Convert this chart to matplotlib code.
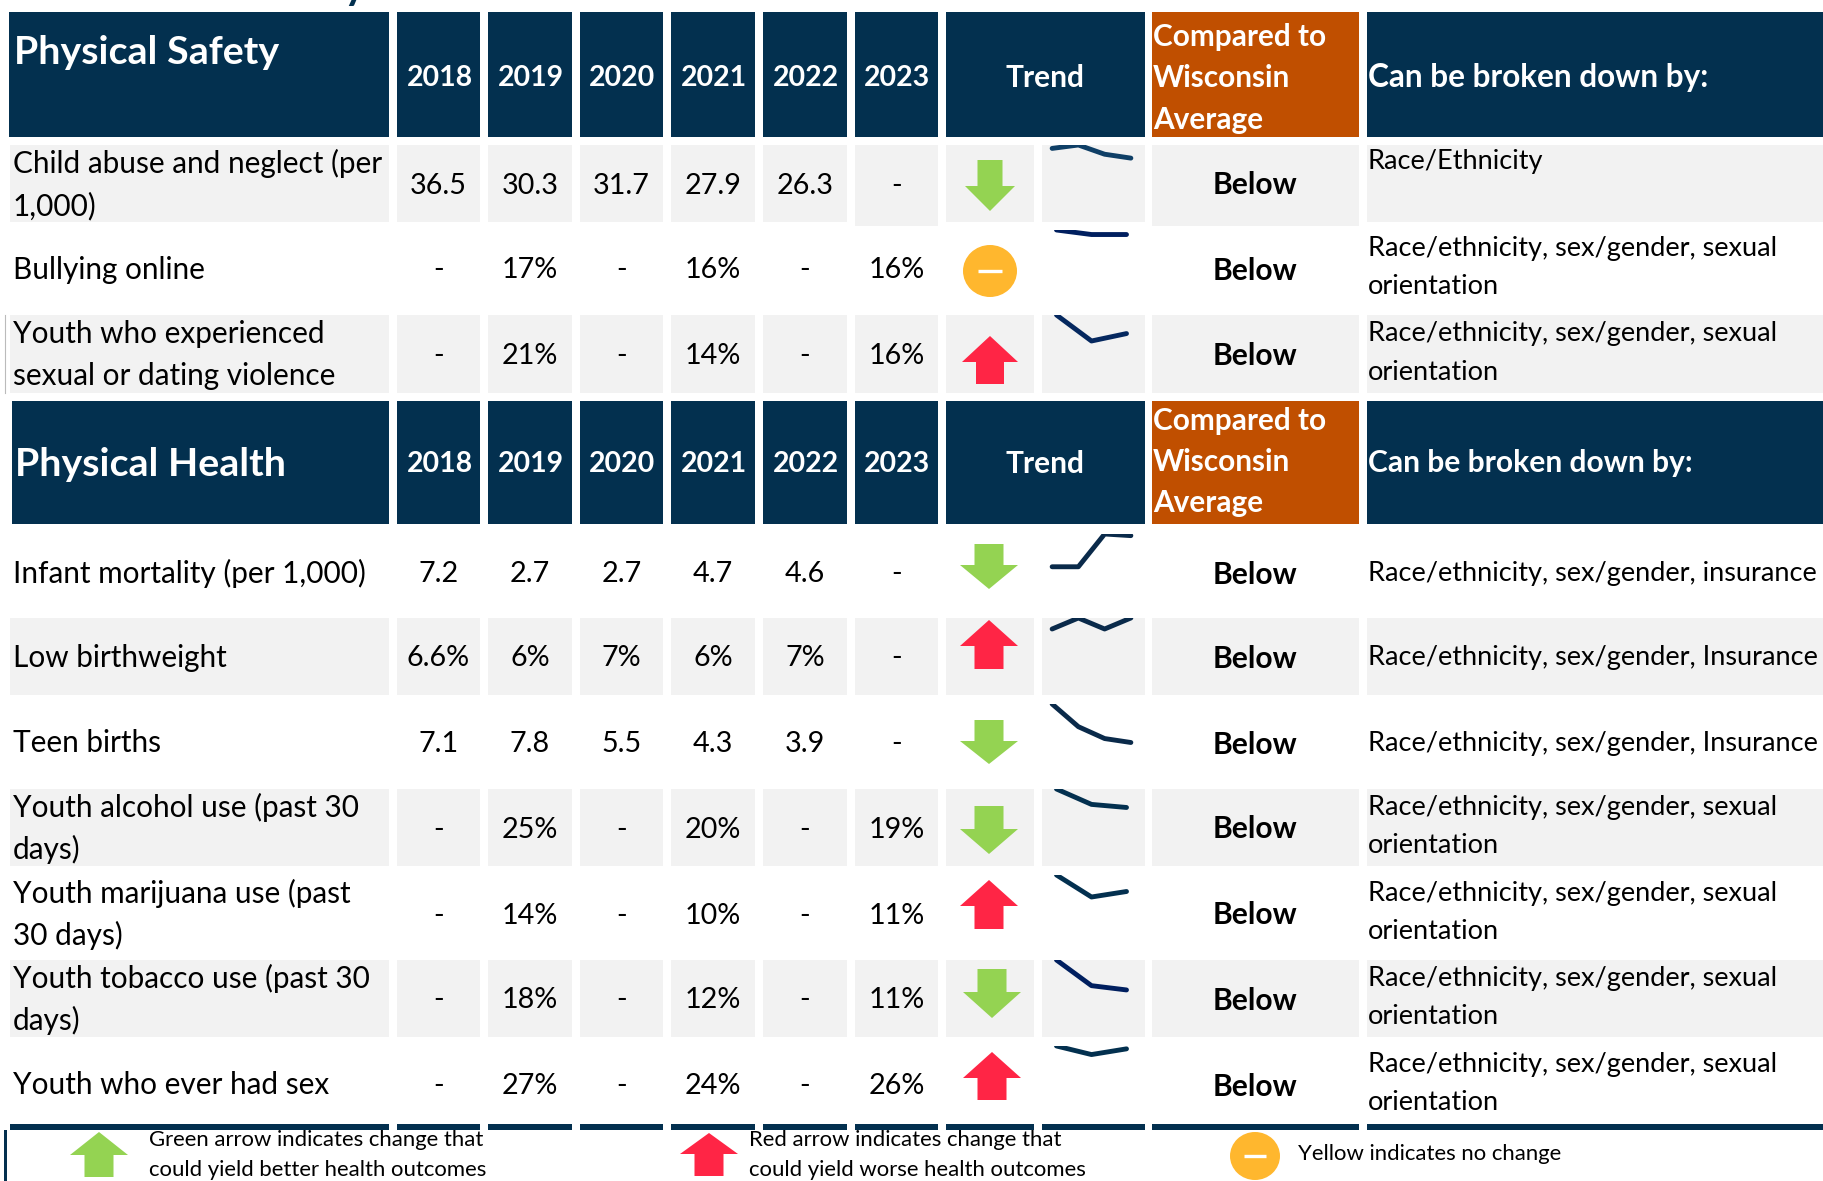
import matplotlib
matplotlib.use('Agg')
import matplotlib.pyplot as plt
from matplotlib.patches import Rectangle, Polygon, Ellipse

NAVY = '#03304f'
ORANGE = '#c04f00'
GRAY = '#f2f2f2'
GREEN = '#94d352'
RED = '#ff2545'
YELLOW = '#ffb72e'

years = ['2018', '2019', '2020', '2021', '2022', '2023']
compare_header = ['Compared to', 'Wisconsin', 'Average']

safety_names = ['Child abuse and neglect (per\n1,000)', 'Bullying online',
                'Youth who experienced\nsexual or dating violence']
safety_values = [['36.5', '30.3', '31.7', '27.9', '26.3', '-'],
                 ['-', '17%', '-', '16%', '-', '16%'],
                 ['-', '21%', '-', '14%', '-', '16%']]
safety_trend = ['down', 'flat', 'up']
safety_breakdown = ['Race/Ethnicity',
                    'Race/ethnicity, sex/gender, sexual\norientation',
                    'Race/ethnicity, sex/gender, sexual\norientation']

health_names = ['Infant mortality (per 1,000)', 'Low birthweight', 'Teen births',
                'Youth alcohol use (past 30\ndays)', 'Youth marijuana use (past\n30 days)',
                'Youth tobacco use (past 30\ndays)', 'Youth who ever had sex']
health_values = [['7.2', '2.7', '2.7', '4.7', '4.6', '-'],
                 ['6.6%', '6%', '7%', '6%', '7%', '-'],
                 ['7.1', '7.8', '5.5', '4.3', '3.9', '-'],
                 ['-', '25%', '-', '20%', '-', '19%'],
                 ['-', '14%', '-', '10%', '-', '11%'],
                 ['-', '18%', '-', '12%', '-', '11%'],
                 ['-', '27%', '-', '24%', '-', '26%']]
health_trend = ['down', 'up', 'down', 'down', 'up', 'down', 'up']
health_breakdown = ['Race/ethnicity, sex/gender, insurance',
                    'Race/ethnicity, sex/gender, Insurance',
                    'Race/ethnicity, sex/gender, Insurance',
                    'Race/ethnicity, sex/gender, sexual\norientation',
                    'Race/ethnicity, sex/gender, sexual\norientation',
                    'Race/ethnicity, sex/gender, sexual\norientation',
                    'Race/ethnicity, sex/gender, sexual\norientation']

legend_green = 'Green arrow indicates change that\ncould yield better health outcomes'
legend_red = 'Red arrow indicates change that\ncould yield worse health outcomes'
legend_yellow = 'Yellow indicates no change'

# layout in pixels of the 1824x1181 picture
W, H = 1824, 1181
name_col = (10, 389)
year_cols = [(397, 480), (488, 572), (580, 663), (671, 755), (763, 847), (855, 938)]
arrow_col = (946, 1034)
spark_col = (1042, 1145)
compare_col = (1152, 1359)
break_col = (1367, 1824)

safety_rows = [(145, 222), (230, 307), (315, 393)]
health_rows = [(534, 611), (618, 695), (704, 781), (789, 866), (875, 952), (960, 1037), (1046, 1123)]
safety_shaded = [True, False, True]
health_shaded = [False, True, False, True, False, True, False]
safety_colors = ['#0f3f66', '#001f5f', '#05285f']
health_colors = ['#0a2a4a', '#0a2a4a', '#0a2a4a', '#03304f', '#03304f', '#001f5f', '#03304f']

# arrow x centre, top, head base, bottom, half width
safety_icons = [(990, 160, 186, 211, 25), (990, 271, 0, 0, 0), (990, 336, 362, 384, 28)]
health_icons = [(989, 544, 565, 589, 29), (989, 620, 646, 669, 29), (989, 720, 741, 764, 29), (989, 806, 829, 854, 29),
                (989, 880, 906, 929, 29), (992, 969, 992, 1018, 29), (992, 1052, 1078, 1100, 29)]

plt.rcParams['font.family'] = ['Lato', 'DejaVu Sans']

fig = plt.figure(figsize=(W / 100, H / 100), dpi=100)
ax = fig.add_axes([0, 0, 1, 1])
ax.set_xlim(0, W)
ax.set_ylim(H, 0)
ax.axis('off')


def box(x0, x1, y0, y1, color):
    ax.add_patch(Rectangle((x0, y0), x1 - x0, y1 - y0, facecolor=color, edgecolor='none'))


def label(x, y, s, size=21, color='black', weight='normal', ha='left', spacing=1.5):
    ax.text(x, y, s, fontsize=size, color=color, fontweight=weight, ha=ha, va='center', linespacing=spacing)


def arrow(x, top, base, bottom, half, direction, color):
    shaft = half / 2
    if direction == 'down':
        pts = [(x - shaft, top), (x + shaft, top), (x + shaft, base), (x + half, base),
               (x, bottom), (x - half, base), (x - shaft, base)]
    else:
        pts = [(x, top), (x + half, base), (x + shaft, base), (x + shaft, bottom),
               (x - shaft, bottom), (x - shaft, base), (x - half, base)]
    ax.add_patch(Polygon(pts, closed=True, facecolor=color, edgecolor='none'))


def flat_icon(x, y, rx, ry):
    ax.add_patch(Ellipse((x, y), rx * 2, ry * 2, facecolor=YELLOW, edgecolor='none'))
    ax.plot([x - rx * 0.45, x + rx * 0.45], [y, y], color='white', lw=2.4, solid_capstyle='butt')


def spark(values, top, bottom, color):
    # excel sparkline from 2019 on, axis starts at zero
    nums = [float(v.strip('%')) for v in values[1:] if v != '-']
    sp = fig.add_axes([1039 / W, 1 - bottom / H, 105 / W, (bottom - top) / H])
    sp.plot(range(len(nums)), nums, color=color, lw=3.5, solid_capstyle='round', solid_joinstyle='round')
    sp.set_xlim(-0.5, len(nums) - 0.5)
    sp.set_ylim(0, max(nums))
    sp.axis('off')


def header(y0, y1, title, title_x, title_y, year_y, compare_ys, break_y, name_x0, break_size):
    box(name_x0, name_col[1], y0, y1, NAVY)
    label(title_x, title_y, title, size=28.4, color='white', weight='bold')
    for c, yr in zip(year_cols, years):
        box(c[0], c[1], y0, y1, NAVY)
        label((c[0] + c[1]) / 2 + 1, year_y, yr, size=20.5, color='white', weight='bold', ha='center')
    box(arrow_col[0], spark_col[1], y0, y1, NAVY)
    label(1045, year_y, 'Trend', size=21.5, color='white', weight='bold', ha='center')
    box(compare_col[0], compare_col[1], y0, y1, ORANGE)
    for yy, s in zip(compare_ys, compare_header):
        label(compare_col[0] + 1, yy, s, size=21.4, color='white', weight='bold')
    box(break_col[0], break_col[1], y0, y1, NAVY)
    label(1368, break_y, 'Can be broken down by:', size=break_size, color='white', weight='bold')


def rows(names, values, trend, breakdown, spans, shaded, colors, icons):
    for i, (y0, y1) in enumerate(spans):
        mid = (y0 + y1) / 2 + 1
        if shaded[i]:
            box(name_col[0], name_col[1], y0, y1, GRAY)
            for c in year_cols:
                box(c[0], c[1], y0, y1, GRAY)
            box(arrow_col[0], arrow_col[1], y0, y1, GRAY)
            box(spark_col[0], spark_col[1], y0, y1, GRAY)
            box(compare_col[0], compare_col[1], y0, y1, GRAY)
            box(break_col[0], break_col[1], y0, y1, GRAY)
        label(13, mid, names[i], size=21.4, spacing=1.57)
        for c, v in zip(year_cols, values[i]):
            label((c[0] + c[1]) / 2, mid + 1, v, size=20.7, ha='center')
        icon = icons[i]
        if trend[i] == 'flat':
            flat_icon(icon[0], icon[1], 27, 26)
        elif trend[i] == 'down':
            arrow(icon[0], icon[1], icon[2], icon[3], icon[4], 'down', GREEN)
        else:
            arrow(icon[0], icon[1], icon[2], icon[3], icon[4], 'up', RED)
        spark(values[i], y0, y1, colors[i])
        label((compare_col[0] + compare_col[1]) / 2, mid + 1, 'Below', size=21.6, weight='bold', ha='center')
        if '\n' in breakdown[i]:
            by = mid - 2
        elif names is safety_names:
            by = y0 + 17
        else:
            by = mid
        label(1368, by, breakdown[i], size=19.5, spacing=1.68)


# only the tail of the page title is left at the top edge
ax.text(344, -1, 'y', fontsize=30, color=NAVY, fontweight='bold', ha='left', va='baseline')

# child abuse row: last year and comparison cells run a little lower
box(855, 938, 222, 226, GRAY)
box(compare_col[0], compare_col[1], 222, 226, GRAY)

header(12, 137, 'Physical Safety', 14, 52, 78, [37, 78, 120], 77, 9, 22.7)
rows(safety_names, safety_values, safety_trend, safety_breakdown, safety_rows, safety_shaded,
     safety_colors, safety_icons)
ax.plot([5.5, 5.5], [315, 393], color='#bbbbbb', lw=0.8)

header(401, 524, 'Physical Health', 15, 464, 464, [421, 462, 503], 463, 12, 21.6)
rows(health_names, health_values, health_trend, health_breakdown, health_rows, health_shaded,
     health_colors, health_icons)

# footer rule and key
box(name_col[0], name_col[1], 1124, 1130, NAVY)
for c in year_cols:
    box(c[0], c[1], 1124, 1130, NAVY)
box(arrow_col[0], arrow_col[1], 1124, 1130, NAVY)
box(spark_col[0], spark_col[1], 1124, 1130, NAVY)
box(compare_col[0], compare_col[1], 1124, 1130, NAVY)
box(break_col[0], break_col[1], 1124, 1130, NAVY)
box(4, 7, 1130, 1181, NAVY)

arrow(99, 1132, 1155, 1177, 29, 'up', GREEN)
arrow(709, 1133, 1154, 1176, 29, 'up', RED)
flat_icon(1255, 1156, 25, 24)
label(149, 1155, legend_green, size=15.9, spacing=1.6)
label(749, 1155, legend_red, size=15.9, spacing=1.6)
label(1298, 1154, legend_yellow, size=15.9)

fig.savefig('out.png', dpi=100)
